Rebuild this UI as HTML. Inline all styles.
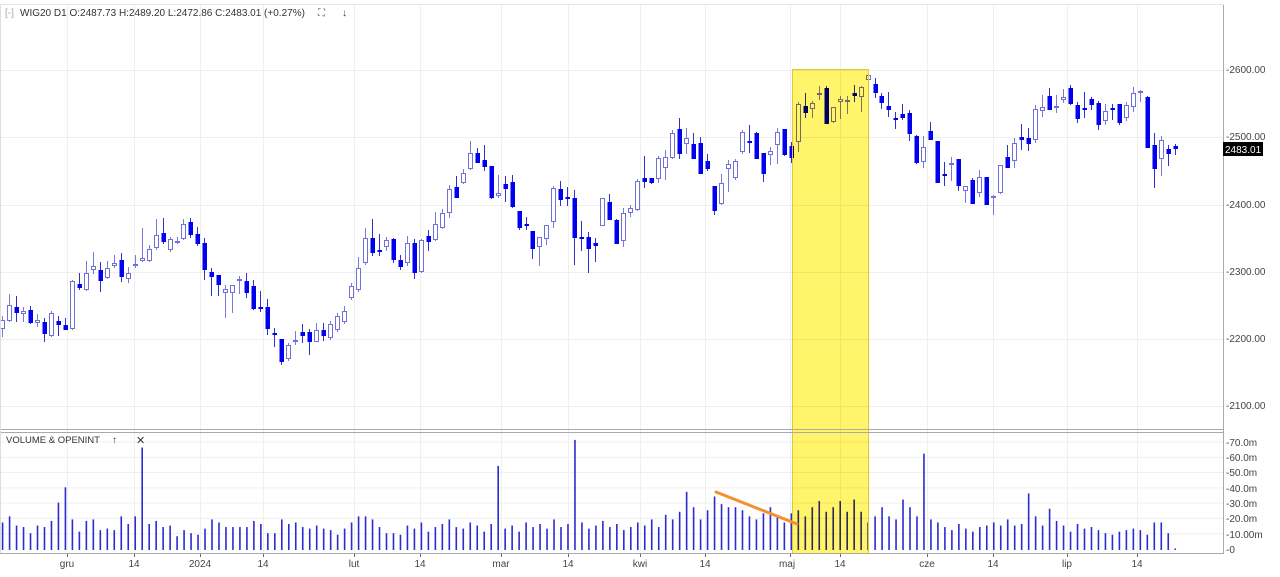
<!DOCTYPE html>
<html><head><meta charset="utf-8">
<style>
html,body{margin:0;padding:0;background:#fff;width:1280px;height:577px;overflow:hidden}
svg{display:block;font-family:"Liberation Sans",sans-serif}
</style></head><body>
<svg id="c" width="1280" height="577" viewBox="0 0 1280 577" xmlns="http://www.w3.org/2000/svg">
<rect x="0" y="0" width="1280" height="577" fill="#fff"/>
<g id="grid" stroke="#efefef" stroke-width="1"></g>
<g id="vol"></g>
<g id="cnd"></g>
<rect x="792" y="69" width="76" height="484" fill="#fff46a" style="mix-blend-mode:multiply"/>
<rect x="792.5" y="69.5" width="76" height="484" fill="none" stroke="#e2c640" stroke-width="1"/>
<line x1="716" y1="492" x2="797" y2="524" stroke="#f39030" stroke-width="3" stroke-linecap="round"/>
<line x1="1223.5" y1="4" x2="1223.5" y2="553" stroke="#aaa"/>
<line x1="0" y1="429.5" x2="1224" y2="429.5" stroke="#aaa"/>
<line x1="0" y1="432.5" x2="1224" y2="432.5" stroke="#aaa"/>
<line x1="0" y1="553.5" x2="1224" y2="553.5" stroke="#aaa"/>
<line x1="0.5" y1="4" x2="0.5" y2="553" stroke="#ddd"/>
<line x1="0" y1="4.5" x2="1224" y2="4.5" stroke="#e6e6e6"/>
<g font-size="10" fill="#444">
<text x="1226" y="73">-2600.00</text>
<text x="1226" y="140">-2500.00</text>
<text x="1226" y="208">-2400.00</text>
<text x="1226" y="275">-2300.00</text>
<text x="1226" y="342">-2200.00</text>
<text x="1226" y="409">-2100.00</text>
<text x="1226" y="446">-70.0m</text>
<text x="1226" y="461">-60.0m</text>
<text x="1226" y="476">-50.0m</text>
<text x="1226" y="492">-40.0m</text>
<text x="1226" y="507">-30.0m</text>
<text x="1226" y="522">-20.0m</text>
<text x="1226" y="538">-10.00m</text>
<text x="1226" y="553">-0</text>
</g>
<rect x="1223" y="142" width="40" height="14" fill="#000"/>
<text x="1225" y="153" font-size="10" fill="#fff">2483.01</text>
<g font-size="10" fill="#444" text-anchor="middle">
<text x="67" y="567">gru</text><text x="134" y="567">14</text><text x="200" y="567">2024</text><text x="263" y="567">14</text>
<text x="354" y="567">lut</text><text x="420" y="567">14</text><text x="501" y="567">mar</text><text x="568" y="567">14</text>
<text x="640" y="567">kwi</text><text x="705" y="567">14</text><text x="787" y="567">maj</text><text x="840" y="567">14</text>
<text x="927" y="567">cze</text><text x="993" y="567">14</text><text x="1067" y="567">lip</text><text x="1137" y="567">14</text>
</g>
<g font-size="10" fill="#333">
<text x="20" y="16">WIG20  D1  O:2487.73  H:2489.20  L:2472.86  C:2483.01  (+0.27%)</text>
<text x="5" y="16" fill="#aaa">[-]</text>
<text x="318" y="16" fill="#555">⛶</text>
<text x="342" y="16" fill="#333">↓</text>
<text x="6" y="443" font-size="9.5">VOLUME &amp; OPENINT</text>
<text x="112" y="443">↑</text>
<text x="136" y="444" font-size="11">✕</text>
</g>
</svg>
<script>
const C=[[329,320,316,337],[321,305,294,322],[307,312,296,322],[314,311,307,322],[310,322,306,324],[323,320,314,327],[322,333,318,342],[336,313,311,337],[321,324,316,336],[325,329,318,330],
[329,281,280,330],[284,287,273,290],[290,273,261,291],[270,266,252,274],[270,280,262,292],[278,268,261,279],[266,263,255,268],[260,276,253,282],[279,273,267,283],[266,264,255,268],
[261,258,228,262],[261,249,245,262],[248,235,219,250],[233,241,218,244],[250,239,237,252],[241,241,237,244],[239,224,219,240],[222,234,218,238],[234,243,227,246],[243,269,238,280],
[272,276,268,296],[275,284,275,296],[293,289,285,318],[293,285,285,313],[280,279,276,294],[281,292,273,298],[286,308,280,310],[307,308,291,312],[307,328,299,335],[333,334,328,347],
[339,361,339,365],[359,345,343,361],[340,340,331,345],[332,335,324,343],[332,341,329,355],[342,330,323,342],[330,335,323,341],[338,324,321,340],[330,316,313,332],[322,311,306,324],
[298,286,283,300],[290,268,257,292],[263,238,228,265],[238,252,219,256],[250,251,234,256],[247,240,237,251],[239,259,238,263],[260,266,255,270],[263,243,236,266],[243,272,239,279],
[272,240,239,273],[236,241,230,251],[240,224,212,241],[228,213,209,229],[213,189,185,218],[187,197,176,198],[183,173,169,184],[169,153,141,170],[153,162,148,163],[160,166,145,171],
[166,197,166,199],[196,193,175,198],[184,188,176,202],[182,206,175,208],[211,227,211,230],[224,225,217,230],[231,248,231,259],[247,237,237,266],[239,225,225,245],[222,188,186,228],
[189,199,181,206],[197,198,187,206],[198,237,190,265],[237,238,221,251],[237,248,232,273],[243,245,238,262],[226,198,198,226],[202,219,194,219],[220,243,219,244],[241,213,208,247],
[213,208,205,217],[210,181,179,211],[178,181,156,188],[178,182,178,184],[179,158,156,183],[168,157,150,180],[158,133,130,159],[129,153,118,159],[144,138,128,154],[144,158,133,159],
[143,173,137,174],[161,168,154,171],[186,210,186,215],[204,183,174,205],[169,164,160,192],[178,161,159,180],[152,132,130,154],[141,142,125,153],[133,158,132,159],[153,173,153,182],
[155,151,147,165],[145,132,128,164],[129,154,129,156],[146,157,142,163],[142,104,102,152],[106,112,93,118],[109,103,101,118],[95,93,86,100],[88,123,86,124],[122,107,107,123],
[102,99,96,119],[102,100,96,114],[93,95,85,102],[97,87,86,112],[80,75,70,81],[84,92,78,98],[96,102,93,109],[106,109,92,117],[118,119,112,129],[114,117,104,120],
[113,133,110,141],[136,162,135,164],[162,147,136,168],[131,139,122,140],[141,182,141,183],[174,175,162,186],[164,163,157,181],[159,185,159,191],[191,186,186,203],[180,203,178,203],
[193,177,170,197],[177,204,177,205],[197,196,195,215],[193,165,165,194],[157,167,145,168],[161,143,138,168],[137,139,124,150],[138,143,128,151],[140,109,105,143],[111,107,95,117],
[96,109,88,110],[106,106,95,113],[100,97,89,103],[88,103,85,105],[105,118,102,123],[108,109,92,118],[99,104,97,110],[103,124,101,130],[121,111,104,125],[108,109,104,120],
[104,122,104,125],[118,105,102,121],[107,93,87,112],[93,91,90,102],[97,147,96,147],[145,168,133,188],[159,140,136,176],[149,153,145,166],[146,148,144,155]];
const V=[18,22,16,15,11,16,15,19,31,41,20,12,19,20,13,14,13,22,17,22,67,17,19,15,16,9,13,11,10,14,20,18,15,15,15,15,19,17,11,11,20,17,18,15,14,16,14,13,10,14,18,22,22,20,15,11,11,10,
16,14,18,12,15,17,20,15,14,18,16,12,17,55,14,16,12,18,15,17,14,20,15,17,72,18,14,16,19,15,17,13,15,18,16,20,15,23,20,25,38,28,20,26,35,30,28,28,26,22,20,24,28,22,18,24,26,
22,28,32,25,28,32,25,33,25,18,22,28,22,20,33,28,22,63,20,18,15,13,17,14,12,15,16,18,16,20,16,17,37,22,16,27,19,16,12,17,14,15,13,11,10,12,13,14,13,10,18,18,11,1];
const ns="http://www.w3.org/2000/svg";
function el(p,t,a){const e=document.createElementNS(ns,t);for(const k in a)e.setAttribute(k,a[k]);p.appendChild(e);return e;}
const g=document.getElementById('grid'),cg=document.getElementById('cnd'),vg=document.getElementById('vol');
[70,137,205,272,339,406].forEach(y=>el(g,'line',{x1:0,x2:1223,y1:y+.5,y2:y+.5}));
for(let i=1;i<=7;i++){const y=549-i*15.29;el(g,'line',{x1:0,x2:1223,y1:y,y2:y});}
[67,134,200,263,354,420,501,568,640,705,790,840,927,993,1067,1137].forEach(x=>{el(g,'line',{x1:x+.5,x2:x+.5,y1:5,y2:553});el(g,'line',{x1:x+.5,x2:x+.5,y1:553,y2:557,stroke:'#666'});});
C.forEach((c,i)=>{const x=Math.round(2+i*6.98);const [o,cl,h,l]=c;const up=cl<=o;
 el(cg,'line',{x1:x+.5,x2:x+.5,y1:h,y2:l,stroke:up?'#7a7ad8':'#3030d0','stroke-width':1});
 const t=Math.min(o,cl),b=Math.max(o,cl),hh=Math.max(b-t,1);
 if(up)el(cg,'rect',{x:x-1.5,y:t+.5,width:4,height:Math.max(hh-1,1),fill:'#fff',stroke:'#7070d8','stroke-width':1});
 else el(cg,'rect',{x:x-1.5,y:t,width:4.5,height:hh+1,fill:'#0000ee'});});
V.forEach((v,i)=>{const x=2+i*6.98;const h=v*1.529;el(vg,'rect',{x:x-0.2,y:550-h,width:1.6,height:h,fill:'#2b2bd0'});});
</script>
</body></html>
